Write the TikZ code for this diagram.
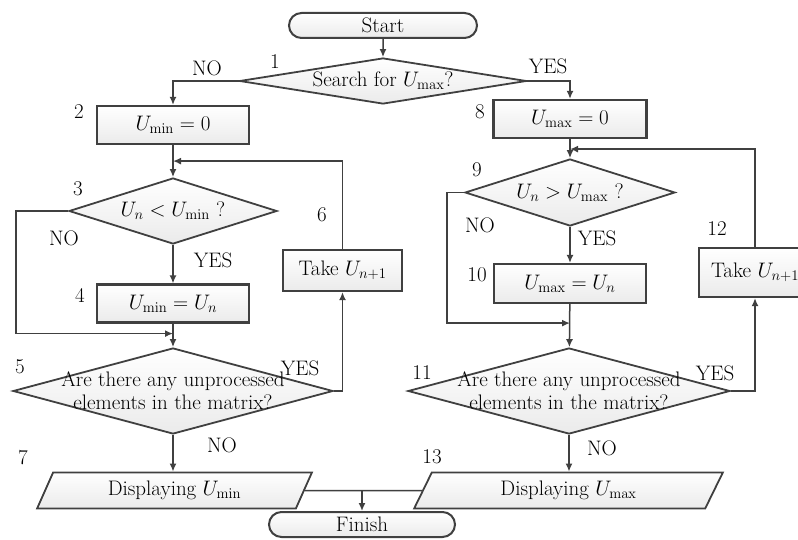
\RequirePackage{fix-cm}
\documentclass[tikz,border=0pt]{standalone}
\usetikzlibrary{shapes.geometric,shapes.misc,arrows.meta,calc}

\definecolor{flowline}{HTML}{404040}

\tikzset{
  flowtext/.style={font=\fontsize{21}{23}\selectfont},
  shade box/.style={top color=white,bottom color=gray!16},
  process/.style={rectangle,draw=flowline,line width=2.2pt,shade box,
    minimum height=38pt,inner sep=0pt,flowtext},
  decision/.style={diamond,draw=flowline,line width=1.8pt,shade box,inner sep=0pt},
  terminal/.style={rounded rectangle,draw=flowline,line width=2pt,shade box,
    minimum width=188pt,minimum height=25pt,inner sep=0pt,flowtext},
  inout/.style={trapezium,trapezium left angle=65,trapezium right angle=115,
    trapezium stretches=true,draw=flowline,line width=1.8pt,shade box,
    minimum height=36pt,inner sep=0pt,flowtext},
  conn/.style={draw=flowline,line width=1.5pt},
  arr/.style={conn,-{Latex[length=8pt,width=7pt]}},
  steplabel/.style={flowtext,inner sep=0pt},
}

\begin{document}
\begin{tikzpicture}[x=1pt,y=-1pt]

    % Fix the page size
    \useasboundingbox (0,0) rectangle (798,540);

    % Start and first decision
    \node[terminal] (start) at (383,25.5) {Start};
    \node[decision,minimum width=287pt,minimum height=46pt] (d1) at (383,81) {};
    \node[flowtext] (q1) at (d1) {Search for $U_{\mathrm{max}}$?};

    % Left branch: search for the minimum
    \node[process,minimum width=152pt] (b2) at (173,125) {$U_{\mathrm{min}}=0$};
    \node[decision,minimum width=208pt,minimum height=66pt] (d3) at (173,211) {};
    \node[flowtext] (q3) at (d3) {$U_n<U_{\mathrm{min}}$ ?};
    \node[process,minimum width=152pt] (b4) at (173,303.5) {$U_{\mathrm{min}}=U_n$};
    \node[decision,minimum width=320pt,minimum height=86pt] (d5) at (173,391) {};
    \node[flowtext,align=center] (q5) at (d5) {Are there any unprocessed\\elements in the matrix?};
    \node[process,minimum width=119pt,minimum height=41pt] (t6) at (342.5,270.5) {Take $U_{n+1}$};
    \node[inout,minimum width=275pt] (dmin) at (174.5,490.5) {Displaying $U_{\mathrm{min}}$};

    % Right branch: search for the maximum
    \node[process,minimum width=153pt] (b8) at (570,119) {$U_{\mathrm{max}}=0$};
    \node[decision,minimum width=210pt,minimum height=67pt] (d9) at (570,192.5) {};
    \node[flowtext] (q9) at (d9) {$U_n>U_{\mathrm{max}}$ ?};
    \node[process,minimum width=152pt,minimum height=39pt] (b10) at (570,283.5) {$U_{\mathrm{max}}=U_n$};
    \node[decision,minimum width=322pt,minimum height=86pt] (d11) at (569,391) {};
    \node[flowtext,align=center] (q11) at (d11) {Are there any unprocessed\\elements in the matrix?};
    \node[process,minimum width=112pt,minimum height=49pt] (t12) at (755,272.5) {Take $U_{n+1}$};
    \node[inout,minimum width=309pt] (dmax) at (568.5,490.5) {Displaying $U_{\mathrm{max}}$};

    % End
    \node[terminal,minimum width=186pt] (fin) at (362,524.5) {Finish};

    % Junction points of the loops
    \coordinate (m3) at ($(b2.south)!0.5!(d3.north)$);
    \coordinate (j4) at ($(b4.south)+(0,10)$);
    \coordinate (m9) at ($(b8.south)+(0,10)$);
    \coordinate (j10) at ($(b10.south)+(0,19)$);

    % Connectors of the left branch
    \draw[arr] (start) -- (d1);
    \draw[arr] (d1.west) -| (b2.north);
    \draw[arr] (b2) -- (d3);
    \draw[arr] (d3) -- (b4);
    \draw[arr] (d3.west) -- ++(-52,0) |- (j4);
    \draw[arr] (b4) -- (d5);
    \draw[arr] (d5.east) -| (t6.south);
    \draw[arr] (t6.north) |- (m3);
    \draw[arr] (d5.south) -- (d5.south |- dmin.north);

    % Connectors of the right branch
    \draw[arr] (d1.east) -| (b8.north);
    \draw[arr] (b8) -- (d9);
    \draw[arr] (d9) -- (b10);
    \draw[arr] (d9.west) -- ++(-17,0) |- (j10);
    \draw[arr] (b10) -- (d11);
    \draw[arr] (d11.east) -| (t12.south);
    \draw[arr] (t12.north) |- (m9);
    \draw[arr] (d11.south) -- (d11.south |- dmax.north);

    % Both results lead to the end
    \draw[conn] (dmin.east) -- (dmax.west);
    \draw[arr] (fin.north |- dmin.east) -- (fin.north);

    % Step numbers
    \node[steplabel] (s1) at (275,62) {1};
    \node[steplabel] (s2) at (79,112) {2};
    \node[steplabel] (s3) at (78,189) {3};
    \node[steplabel] (s4) at (80,295) {4};
    \node[steplabel] (s5) at (20,367) {5};
    \node[steplabel] (s6) at (322,215) {6};
    \node[steplabel] (s7) at (23,458) {7};
    \node[steplabel] (s8) at (480,112) {8};
    \node[steplabel] (s9) at (477,170) {9};
    \node[steplabel] (s10) at (477,275) {10};
    \node[steplabel] (s11) at (422,373) {11};
    \node[steplabel] (s12) at (717,229) {12};
    \node[steplabel] (s13) at (432,457) {13};

    % Answers at the decisions
    \node[steplabel] (a1) at (207,68) {NO};
    \node[steplabel] (a2) at (548,66) {YES};
    \node[steplabel] (a3) at (64,238) {NO};
    \node[steplabel] (a4) at (213,260) {YES};
    \node[steplabel] (a5) at (300,368) {YES};
    \node[steplabel] (a6) at (222,445) {NO};
    \node[steplabel] (a7) at (480,225) {NO};
    \node[steplabel] (a8) at (597,238) {YES};
    \node[steplabel] (a9) at (715,373) {YES};
    \node[steplabel] (a10) at (602,448) {NO};

\end{tikzpicture}
\end{document}
